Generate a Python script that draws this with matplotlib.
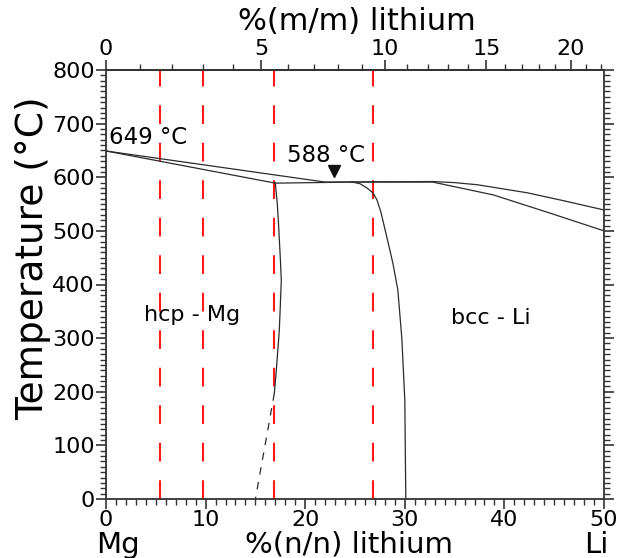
import numpy as np
import matplotlib.pyplot as plt
from matplotlib.ticker import MultipleLocator, FixedLocator

# phase boundaries, x = %(n/n) Li, T in degC
liq_mg_x = [0.0, 22.0]
liq_mg_t = [649, 591]
sol_mg_x = [0.0, 17.0]
sol_mg_t = [649, 589]
eut_x = [17.0, 24.7]
eut_t = [589, 591]
liq_li_x = [22.0, 32.8, 35.0, 37.3, 42.3, 46.0, 50.0]
liq_li_t = [591, 592, 590, 586, 571, 556, 539]
sol_li_x = [24.7, 32.8, 38.9, 44.6, 50.0]
sol_li_t = [591, 591, 567, 533, 500]
solv_mg_x = [17.0, 17.2, 17.3, 17.5, 17.6, 17.5, 17.4, 17.1, 16.9]
solv_mg_t = [589, 550, 520, 450, 408, 360, 315, 240, 197]
solv_mg_dash_x = [16.9, 15.0]
solv_mg_dash_t = [197, 0]
solv_li_x = [24.7, 25.5, 26.2, 26.8, 27.2, 27.6, 28.2, 28.8, 29.3, 29.7, 30.0, 30.1]
solv_li_t = [591, 588, 580, 571, 558, 535, 488, 440, 390, 300, 185, 0]

# marked compositions (red dashed)
alloys = [5.45, 9.7, 16.9, 26.8]

top_major = [0, 5, 10, 15, 20]
top_minor = list(range(0, 23))

M_LI = 6.941
M_MG = 24.305


def at2wt(x):
    x = np.asarray(x, dtype=float) / 100.0
    return 100.0 * x * M_LI / (x * M_LI + (1 - x) * M_MG)


def wt2at(w):
    w = np.asarray(w, dtype=float) / 100.0
    return 100.0 * (w / M_LI) / (w / M_LI + (1 - w) / M_MG)


fig = plt.figure(figsize=(6.18, 5.58), dpi=100)
ax = fig.add_axes([106 / 618, 1 - 499 / 558, 498 / 618, 429 / 558])

for x in alloys:
    ax.plot([x, x], [0, 800], color='#ff1a1a', lw=1.5, ls=(0, (9, 9)), zorder=1)

lc = '#2b2b2b'
lw = 0.9
for xs, ts in [(liq_mg_x, liq_mg_t), (sol_mg_x, sol_mg_t), (eut_x, eut_t),
               (liq_li_x, liq_li_t), (sol_li_x, sol_li_t),
               (solv_mg_x, solv_mg_t), (solv_li_x, solv_li_t)]:
    ax.plot(xs, ts, color=lc, lw=lw, zorder=2)
ax.plot(solv_mg_dash_x, solv_mg_dash_t, color=lc, lw=lw, ls=(0, (6, 6)), zorder=2)

ax.plot([22.9], [611], marker='v', color='#111111', ms=8, zorder=3)
ax.text(22.1, 641, '588 °C', fontsize=16.5, ha='center', va='center')
ax.text(0.3, 675, '649 °C', fontsize=16.5, ha='left', va='center')
ax.text(8.6, 343, 'hcp - Mg', fontsize=16, ha='center', va='center')
ax.text(38.6, 337, 'bcc - Li', fontsize=16, ha='center', va='center')

ax.set_xlim(0, 50)
ax.set_ylim(0, 800)
ax.xaxis.set_major_locator(MultipleLocator(10))
ax.xaxis.set_minor_locator(MultipleLocator(1))
ax.yaxis.set_major_locator(MultipleLocator(100))
ax.yaxis.set_minor_locator(MultipleLocator(10))
ax.tick_params(which='both', direction='out', colors='#333333', labelcolor='black',
               labelsize=16, top=False, right=True, labelright=False)
ax.tick_params(which='major', length=7, width=1.2, pad=1)
ax.tick_params(which='minor', length=4, width=1)
for s in ax.spines.values():
    s.set_color('#333333')
    s.set_linewidth(1.3)

sec = ax.secondary_xaxis('top', functions=(at2wt, wt2at))
sec.xaxis.set_major_locator(FixedLocator(top_major))
sec.xaxis.set_minor_locator(FixedLocator(top_minor))
sec.tick_params(which='both', direction='out', colors='#333333', labelcolor='black',
                labelsize=16)
sec.tick_params(which='major', length=7, width=1.2, pad=1)
sec.tick_params(which='minor', length=4, width=1)
sec.spines['top'].set_color('#333333')
sec.spines['top'].set_linewidth(1.3)

fig.text(33 / 618, 1 - 258 / 558, 'Temperature (°C)', fontsize=27, rotation=90,
         ha='center', va='center')
fig.text(357 / 618, 1 - 21 / 558, '%(m/m) lithium', fontsize=22, ha='center', va='center')
fig.text(349 / 618, 1 - 553 / 558, '%(n/n) lithium', fontsize=21, ha='center', va='baseline')
fig.text(118 / 618, 1 - 553 / 558, 'Mg', fontsize=21, ha='center', va='baseline')
fig.text(596 / 618, 1 - 553 / 558, 'Li', fontsize=21, ha='center', va='baseline')

fig.savefig('out.png', dpi=100)
